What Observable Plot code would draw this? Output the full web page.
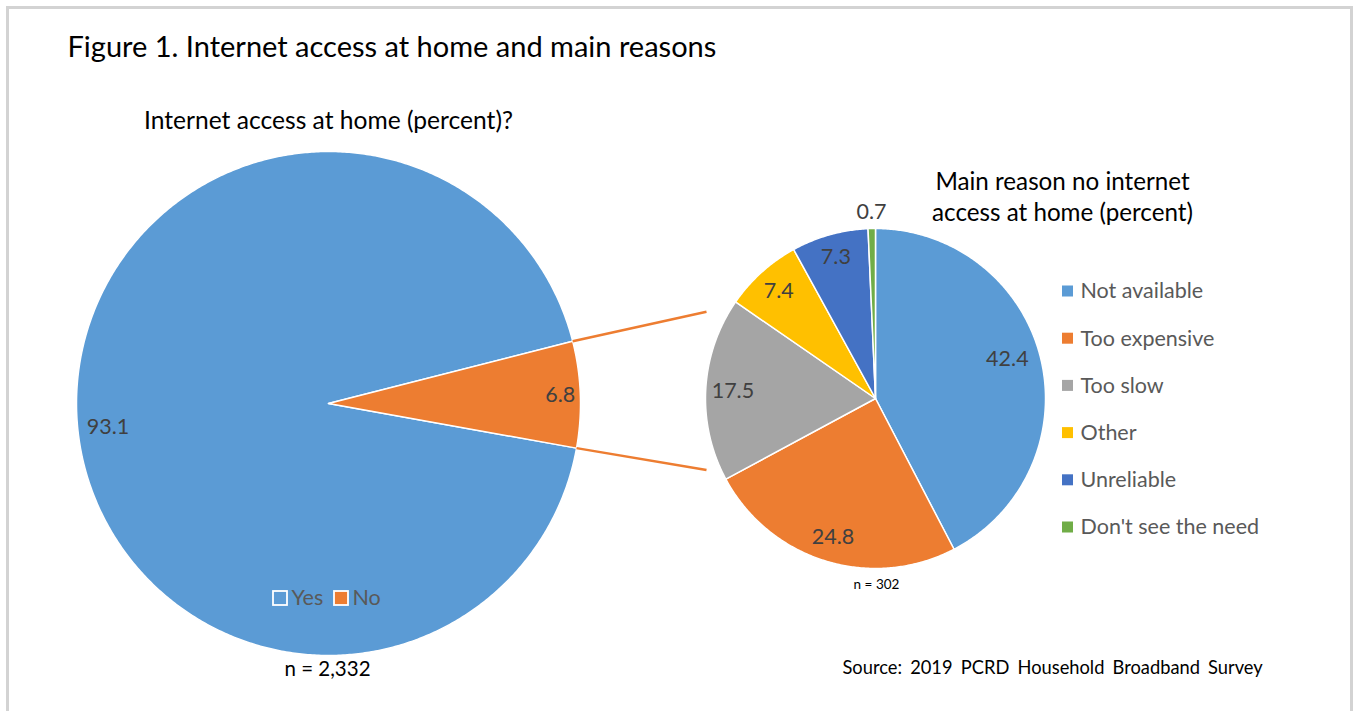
<!DOCTYPE html>
<html>
<head>
<meta charset="utf-8">
<script src="https://cdn.jsdelivr.net/npm/d3@7"></script>
<script src="https://cdn.jsdelivr.net/npm/@observablehq/plot@0.6"></script>
<style>
  html, body { margin: 0; padding: 0; background: #fff; }
  #wrap { position: relative; width: 1353px; height: 711px; overflow: hidden; }
  #frame { position: absolute; left: 6px; top: 6px; width: 1341px; height: 760px; border: 3px solid #d3d3d3; box-sizing: content-box; }
  #chart { position: absolute; left: 0; top: 0; }
</style>
</head>
<body>
<div id="wrap"><div id="frame"></div><div id="chart"></div></div>
<script>
// ---------- data ----------
const title = "Figure 1. Internet access at home and main reasons";
const leftTitle = "Internet access at home (percent)?";
const rightTitle = ["Main reason no internet", "access at home (percent)"];
const answers = ["Yes", "No"];
const answerValues = [93.1, 6.8];
const answerColors = ["#5B9BD5", "#ED7D31"];
const reasons = ["Not available", "Too expensive", "Too slow", "Other", "Unreliable", "Don't see the need"];
const reasonValues = [42.4, 24.8, 17.5, 7.4, 7.3, 0.7];
const reasonColors = ["#5B9BD5", "#ED7D31", "#A5A5A5", "#FFC000", "#4472C4", "#70AD47"];
const leftN = "n = 2,332";
const rightN = "n = 302";
const source = "Source: 2019 PCRD Household Broadband Survey";

// ---------- layout ----------
const W = 1353, H = 711;
const rad = Math.PI / 180;
const bigPie = {cx: 328, cy: 403, r: 252, start: 100.2 * rad, labelK: [0.88, 0.92], labelTurn: [-4, 0]};
const smallPie = {cx: 875, cy: 398, r: 170, start: 0, labelK: [0.81, 0.85, 0.84, 0.85, 0.865, 1.095], labelTurn: [-3, 0, 0, 0, 0, 0]};
const connectorK = [-0.51, 0.42];

function arcsOf(labels, values, g) {
  const arcs = d3.pie().sort(null).startAngle(g.start).endAngle(g.start + 2 * Math.PI)(values);
  return arcs.map((a, i) => ({label: labels[i], value: values[i], a0: a.startAngle, a1: a.endAngle,
    mid: (a.startAngle + a.endAngle) / 2 + g.labelTurn[i] * rad, k: g.labelK[i]}));
}
const pt = (g, ang, k) => ({x: g.cx + k * g.r * Math.sin(ang), y: g.cy - k * g.r * Math.cos(ang)});
function polygons(arcs, g) {
  const rows = [];
  for (const a of arcs) {
    const n = Math.max(2, Math.ceil((a.a1 - a.a0) / (0.5 * rad)));
    rows.push({key: a.label, x: g.cx, y: g.cy});
    for (let j = 0; j <= n; j++) rows.push({key: a.label, ...pt(g, a.a0 + (a.a1 - a.a0) * j / n, 1)});
  }
  return rows;
}

const bigArcs = arcsOf(answers, answerValues, bigPie);
const smallArcs = arcsOf(reasons, reasonValues, smallPie);
const bigPoly = polygons(bigArcs, bigPie).map(d => ({...d, key: "A:" + d.key}));
const smallPoly = polygons(smallArcs, smallPie).map(d => ({...d, key: "R:" + d.key}));

const labelRows = [
  ...bigArcs.map(a => ({text: a.value.toFixed(1), ...pt(bigPie, a.mid, a.k)})),
  ...smallArcs.map(a => ({text: a.value.toFixed(1), ...pt(smallPie, a.mid, a.k)}))
];

const noArc = bigArcs[1];
const corners = [pt(bigPie, noArc.a0, 1), pt(bigPie, noArc.a1, 1)];
const connectors = corners.map((c, i) => ({x1: c.x, y1: c.y, x2: smallPie.cx - smallPie.r + 1, y2: smallPie.cy + connectorK[i] * smallPie.r}));

// legends
const leftLegend = answers.map((a, i) => ({label: a, color: answerColors[i], x: [273, 334][i], y: 598}));
const rightLegend = reasons.map((r, i) => ({label: r, color: reasonColors[i], x: 1062, y: 291 + i * 47.2}));

const colorDomain = [...answers.map(a => "A:" + a), ...reasons.map(r => "R:" + r), ...answers.map(a => "L:" + a), ...reasons.map(r => "LR:" + r)];
const colorRange = [...answerColors, ...reasonColors, ...answerColors, ...reasonColors];

const font = "Lato, 'Open Sans', sans-serif";
const gray = "#595959";

const chart = Plot.plot({
  width: W, height: H,
  margin: 0,
  x: {domain: [0, W], range: [0, W], axis: null},
  y: {domain: [0, H], range: [0, H], axis: null},
  color: {type: "ordinal", domain: colorDomain, range: colorRange},
  style: {background: "transparent", overflow: "visible", fontFamily: font},
  marks: [
    Plot.line(bigPoly, {x: "x", y: "y", z: "key", fill: "key", stroke: "white", strokeWidth: 1.5, curve: "linear-closed"}),
    Plot.line(smallPoly, {x: "x", y: "y", z: "key", fill: "key", stroke: "white", strokeWidth: 1.5, curve: "linear-closed"}),
    Plot.link(connectors, {x1: "x1", y1: "y1", x2: "x2", y2: "y2", stroke: "#ED7D31", strokeWidth: 2.5}),
    Plot.text(labelRows, {x: "x", y: "y", text: "text", fill: "#404040", fontSize: 21.5, fontFamily: font}),
    // titles
    Plot.text([title], {x: 67, y: 47, text: d => d, textAnchor: "start", fontSize: 29, fill: "#000", fontFamily: font}),
    Plot.text([leftTitle], {x: 328, y: 121, text: d => d, fontSize: 24.6, fill: "#000", fontFamily: font}),
    Plot.text(rightTitle, {x: 1062, y: (d, i) => 182 + i * 31, text: d => d, fontSize: 24.2, fill: "#000", fontFamily: font}),
    Plot.text([leftN], {x: 327, y: 669, text: d => d, fontSize: 20.5, fill: "#000", fontFamily: font}),
    Plot.text([rightN], {x: 876, y: 584, text: d => d, fontSize: 13.5, fill: "#000", fontFamily: font}),
    Plot.text([source], {x: 842, y: 668, text: d => d, textAnchor: "start", fontSize: 18.3, fill: "#000", fontFamily: font}),
    // left legend
    Plot.rect(leftLegend, {x1: d => d.x, x2: d => d.x + 14, y1: d => d.y - 7, y2: d => d.y + 7, fill: d => "L:" + d.label, stroke: "white", strokeWidth: 1.8}),
    Plot.text(leftLegend, {x: d => d.x + 18, y: "y", text: "label", textAnchor: "start", fontSize: 21.5, fill: gray, fontFamily: font}),
    // right legend
    Plot.rect(rightLegend, {x1: d => d.x, x2: d => d.x + 11, y1: d => d.y - 5.5, y2: d => d.y + 5.5, fill: d => "LR:" + d.label}),
    Plot.text(rightLegend, {x: d => d.x + 18, y: "y", text: "label", textAnchor: "start", fontSize: 21.5, fill: gray, fontFamily: font})
  ]
});
// justified-looking word spacing of the source line, as in the reference
d3.select(chart).selectAll("text").filter(function () { return this.textContent === source; }).style("word-spacing", "3.5px");
document.getElementById("chart").appendChild(chart);
</script>
</body>
</html>
